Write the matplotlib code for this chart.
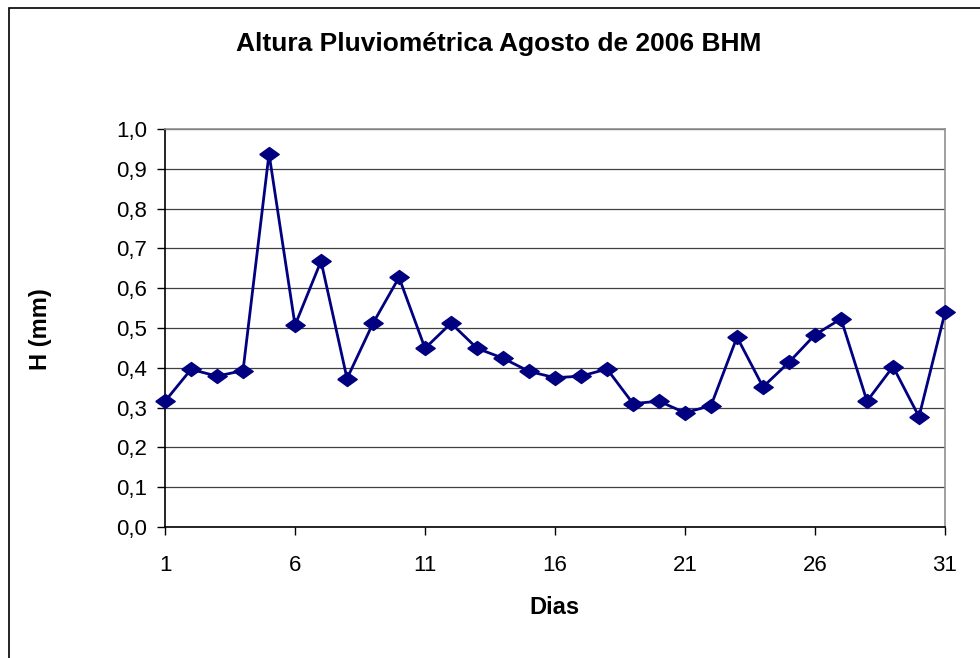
import matplotlib.pyplot as plt
from matplotlib.patches import Rectangle

# dias do mes e altura (mm)
dias = list(range(1, 32))
altura = [0.316, 0.396, 0.379, 0.393, 0.938, 0.507, 0.668, 0.373, 0.512, 0.627,
          0.449, 0.512, 0.449, 0.424, 0.391, 0.375, 0.379, 0.397, 0.310, 0.316,
          0.287, 0.305, 0.477, 0.352, 0.414, 0.483, 0.523, 0.316, 0.403, 0.277,
          0.539]
x_ticks = [1, 6, 11, 16, 21, 26, 31]
y_ticks = [i / 10 for i in range(11)]
y_labels = ['%.1f' % v for v in y_ticks]
y_labels = [s.replace('.', ',') for s in y_labels]


def main():
    plt.rcParams['font.family'] = ['Liberation Sans', 'DejaVu Sans']
    fig = plt.figure(figsize=(9.8, 6.58), dpi=100)
    ax = fig.add_axes([0.1684, 0.1991, 0.7959, 0.6049])

    # borda externa do grafico
    fig.patches.append(Rectangle((9 / 980, -0.05), 1.1, 0.05 + 1 - 8 / 658,
                                 transform=fig.transFigure, fill=False,
                                 edgecolor='black', linewidth=1.2))

    diamante = [(-1, 0), (0, 0.72), (1, 0), (0, -0.72), (-1, 0)]
    ax.plot(dias, altura, color='#000080', linewidth=2, marker=diamante,
            markersize=14, markerfacecolor='#000080', markeredgecolor='#000080',
            clip_on=False, zorder=3)

    ax.set_xlim(1, 31)
    ax.set_ylim(0, 1.0)
    ax.set_xticks(x_ticks)
    ax.set_yticks(y_ticks)
    ax.set_yticklabels(y_labels)
    ax.tick_params(axis='both', labelsize=16, direction='out', length=6,
                   width=1, color='black')
    ax.tick_params(axis='y', pad=7)
    ax.tick_params(axis='x', pad=14)

    ax.yaxis.grid(True, color='#404040', linewidth=0.9)
    ax.set_axisbelow(True)
    ax.spines['left'].set_color('black')
    ax.spines['bottom'].set_color('black')
    ax.spines['top'].set_color('#909090')
    ax.spines['right'].set_color('#909090')
    for s in ax.spines.values():
        s.set_linewidth(1.2)

    fig.text(0.509, 0.933, 'Altura Pluviométrica Agosto de 2006 BHM',
             ha='center', va='center', fontsize=19, fontweight='bold')
    fig.text(0.041, 0.5, 'H (mm)', ha='center', va='center', rotation=90,
             fontsize=17, fontweight='bold')
    fig.text(0.566, 0.076, 'Dias', ha='center', va='center',
             fontsize=17, fontweight='bold')

    fig.savefig('out.png', dpi=100)


if __name__ == '__main__':
    main()
